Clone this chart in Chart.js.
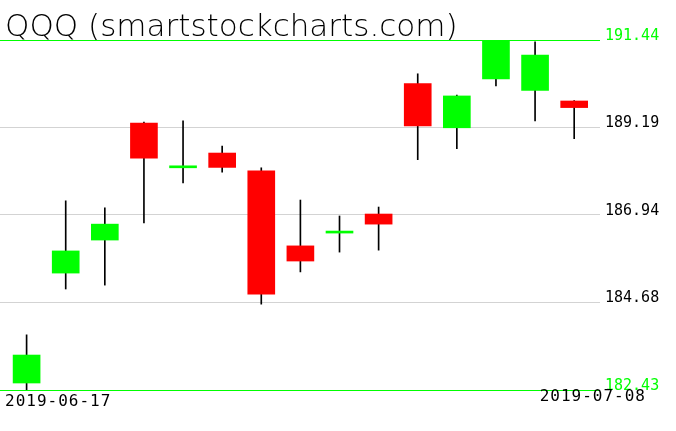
<!DOCTYPE html>
<html>
<head>
<meta charset="utf-8">
<script src="https://cdn.jsdelivr.net/npm/chart.js@4.4.1/dist/chart.umd.min.js"></script>
<style>
  html, body { margin: 0; padding: 0; background: #ffffff; }
  #wrap { width: 676px; height: 431px; }
</style>
</head>
<body>
<div id="wrap"><canvas id="candleChart" width="676" height="431"></canvas></div>
<script>

// daily QQQ candles
const dates = ['2019-06-17', '2019-06-18', '2019-06-19', '2019-06-20', '2019-06-21',
               '2019-06-24', '2019-06-25', '2019-06-26', '2019-06-27', '2019-06-28',
               '2019-07-01', '2019-07-02', '2019-07-03', '2019-07-05', '2019-07-08'];
const opens  = [182.61, 185.44, 186.29, 189.30, 188.15, 188.53, 188.07, 186.14, 186.47, 186.96, 190.32, 189.18, 190.44, 190.14, 189.87];
const highs  = [183.85, 187.30, 187.12, 189.33, 189.36, 188.71, 188.15, 187.32, 186.91, 187.14, 190.57, 190.02, 191.44, 191.39, 189.88];
const lows   = [182.43, 185.03, 185.13, 186.73, 187.76, 188.04, 184.64, 185.47, 185.98, 186.03, 188.36, 188.64, 190.26, 189.36, 188.90];
const closes = [183.33, 186.01, 186.70, 188.40, 188.15, 188.16, 184.90, 185.75, 186.47, 186.70, 189.23, 190.00, 191.44, 191.05, 189.70];

// price levels shown on the right
const yTicks = [182.43, 184.68, 186.94, 189.19, 191.44];

const titleText = 'QQQ (smartstockcharts.com)';

const GREEN = '#00ff00';
const RED = '#ff0000';


function buildData() {
    let wicks = [];
    let bodies = [];
    let bodyColors = [];

    for (let i = 0; i < dates.length; i++) {
        wicks.push({ x: i, y: [lows[i], highs[i]] });
        bodies.push({ x: i, y: [opens[i], closes[i]] });
        // up day (or flat) is green, down day red
        bodyColors.push(closes[i] >= opens[i] ? GREEN : RED);
    }

    return {
        datasets: [{
            label: 'wick',
            data: wicks,
            backgroundColor: '#000000',
            barThickness: 1,
            grouped: false,
            order: 2
        }, {
            label: 'body',
            data: bodies,
            backgroundColor: bodyColors,
            barThickness: 27,
            minBarLength: 2,
            grouped: false,
            order: 1
        }]
    };
}

function isEdge(v) {
    return v === yTicks[0] || v === yTicks[yTicks.length - 1];
}

// title at top left, first and last date under the plot
const textPlugin = {
    id: 'textPlugin',
    afterDraw(chart) {
        const ctx = chart.ctx;
        const area = chart.chartArea;
        ctx.save();
        ctx.fillStyle = '#000000';
        ctx.textBaseline = 'alphabetic';

        ctx.font = '200 31px "DejaVu Sans"';
        ctx.textAlign = 'left';
        ctx.fillText(titleText, area.left + 5, area.top - 4);

        ctx.font = '16px "DejaVu Sans Mono"';
        ctx.letterSpacing = '1px';
        ctx.textAlign = 'left';
        ctx.fillText(dates[0], area.left + 5, area.bottom + 16);
        ctx.textAlign = 'right';
        ctx.fillText(dates[dates.length - 1], area.right + 46, area.bottom + 11);
        ctx.restore();
    }
};

function renderChart() {
    const config = {
        type: 'bar',
        data: buildData(),
        options: {
            responsive: false,
            animation: false,
            devicePixelRatio: 1,
            layout: {
                padding: { top: 40, bottom: 41, left: 0, right: 0 }
            },
            plugins: {
                legend: { display: false },
                tooltip: { enabled: false },
                title: { display: false }
            },
            scales: {
                x: {
                    type: 'linear',
                    display: false,
                    offset: false,
                    min: -0.68,
                    max: 14.66
                },
                y: {
                    position: 'right',
                    min: yTicks[0],
                    max: yTicks[yTicks.length - 1],
                    z: 1,
                    border: { display: false },
                    afterBuildTicks: function(scale) {
                        scale.ticks = yTicks.map(v => ({ value: v }));
                    },
                    afterFit: function(scale) {
                        scale.width = 76;
                    },
                    grid: {
                        drawTicks: false,
                        lineWidth: 1,
                        color: ctx => isEdge(ctx.tick.value) ? GREEN : '#d3d3d3'
                    },
                    ticks: {
                        padding: 5,
                        labelOffset: -4,
                        font: { family: '"DejaVu Sans Mono"', size: 15 },
                        color: ctx => isEdge(ctx.tick.value) ? GREEN : '#000000',
                        callback: v => v.toFixed(2)
                    }
                }
            }
        },
        plugins: [textPlugin]
    };

    new Chart(document.getElementById('candleChart'), config);
}

renderChart();
</script>
</body>
</html>
